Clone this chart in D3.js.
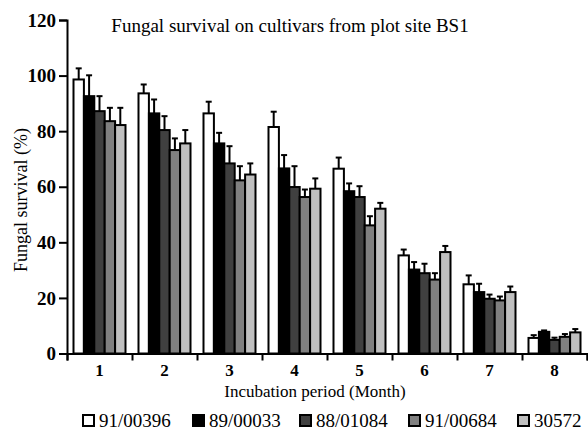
<!DOCTYPE html>
<html>
<head>
<meta charset="utf-8">
<script src="https://cdnjs.cloudflare.com/ajax/libs/d3/7.8.5/d3.min.js"></script>
<style>
  body { margin: 0; background: #fff; }
  text { font-family: "Liberation Serif", "Times New Roman", serif; fill: #000; }
</style>
</head>
<body>
<script>
'use strict';

// incubation months
const months = ["1", "2", "3", "4", "5", "6", "7", "8"];
const cultivars = ["91/00396", "89/00033", "88/01084", "91/00684", "30572"];
const yTicks = [0, 20, 40, 60, 80, 100, 120];

// fungal survival (%) per cultivar, one value per month
const s91_00396 = [98.6, 93.6, 86.4, 81.5, 66.5, 35.3, 24.9, 5.6];
const s89_00033 = [92.6, 86.4, 75.6, 66.6, 58.4, 30.2, 22.1, 7.8];
const s88_01084 = [87.2, 80.4, 68.4, 59.9, 56.3, 28.9, 19.7, 4.9];
const s91_00684 = [83.6, 73.2, 62.3, 56.3, 46.1, 26.6, 19.1, 6.0];
const s30572    = [82.2, 75.6, 64.4, 59.3, 52.1, 36.5, 22.1, 7.6];

// upper error bars
const e91_00396 = [4.0, 3.2, 4.2, 5.5, 4.0, 2.1, 3.2, 1.0];
const e89_00033 = [7.5, 5.0, 3.8, 4.8, 2.8, 2.7, 3.0, 0.5];
const e88_01084 = [5.4, 5.0, 6.2, 7.5, 3.9, 3.4, 1.5, 0.8];
const e91_00684 = [4.8, 4.2, 5.1, 2.7, 3.3, 2.3, 1.4, 1.0];
const e30572    = [6.2, 4.8, 4.0, 3.7, 2.1, 2.2, 2.0, 1.2];

const serif = "'Liberation Serif', 'Times New Roman', serif";

window.onload = function() {
  const width = 588, height = 433;
  const margin = {top: 20, right: 1, bottom: 79, left: 67};

  const values = [s91_00396, s89_00033, s88_01084, s91_00684, s30572];
  const errors = [e91_00396, e89_00033, e88_01084, e91_00684, e30572];
  const fills = ["#ffffff", "#000000", "#404040", "#808080", "#c0c0c0"];

  const svg = d3.select("body").append("svg")
    .attr("width", width)
    .attr("height", height);

  const x0 = d3.scaleBand()
    .domain(months)
    .range([margin.left, width - margin.right])
    .padding(0);

  const x1 = d3.scaleBand()
    .domain(cultivars)
    .range([0, x0.bandwidth()])
    .paddingInner(0)
    .paddingOuter(0.625);

  // boundaries between months, for the tick marks
  const xb = d3.scaleLinear()
    .domain([0, months.length])
    .range(x0.range());

  const y = d3.scaleLinear()
    .domain([0, 120])
    .range([height - margin.bottom - 0.5, margin.top]);

  // flatten into one row per bar
  let bars = [];
  months.forEach((m, i) => {
    cultivars.forEach((c, j) => {
      bars.push({month: m, cultivar: c, value: values[j][i], err: errors[j][i], fill: fills[j]});
    });
  });

  const cx = (d) => x0(d.month) + x1(d.cultivar) + x1.bandwidth() / 2;

  const g = svg.append("g");

  // error bars first, bars drawn over their base
  const eb = g.selectAll(".err").data(bars).enter().append("g")
    .attr("class", "err")
    .style("stroke", "#000")
    .style("stroke-width", "2px");

  eb.append("line")
    .attr("x1", cx)
    .attr("x2", cx)
    .attr("y1", (d) => y(d.value))
    .attr("y2", (d) => y(d.value + d.err));

  eb.append("line")
    .attr("x1", (d) => cx(d) - 3)
    .attr("x2", (d) => cx(d) + 3)
    .attr("y1", (d) => y(d.value + d.err))
    .attr("y2", (d) => y(d.value + d.err));

  g.selectAll(".bar").data(bars).enter().append("rect")
    .attr("class", "bar")
    .attr("x", (d) => x0(d.month) + x1(d.cultivar))
    .attr("y", (d) => y(d.value))
    .attr("width", x1.bandwidth())
    .attr("height", (d) => y(0) - y(d.value))
    .style("fill", (d) => d.fill)
    .style("stroke", "#000")
    .style("stroke-width", "2px");

  // y axis
  const yAxis = svg.append("g")
    .attr("transform", "translate(" + margin.left + ",0)")
    .call(d3.axisLeft(y).tickValues(yTicks).tickSize(8).tickPadding(3));
  yAxis.selectAll("path, line").style("stroke", "#000").style("stroke-width", "2px");
  yAxis.selectAll("text")
    .style("font-family", serif)
    .style("font-size", "19px")
    .style("font-weight", "bold");

  // x axis: ticks at month boundaries
  const xAxis = svg.append("g")
    .attr("transform", "translate(0," + y(0) + ")")
    .call(d3.axisBottom(xb).ticks(months.length).tickSize(7).tickFormat(""));
  xAxis.selectAll("path, line").style("stroke", "#000").style("stroke-width", "2px");

  // month labels centred in each band
  svg.append("g")
    .attr("transform", "translate(0," + y(0) + ")")
    .call(d3.axisBottom(x0).tickSize(0).tickPadding(10))
    .call((a) => a.select(".domain").remove())
    .selectAll("text")
      .style("font-family", serif)
      .style("font-size", "17px")
      .style("font-weight", "bold");

  // labels
  svg.append("text")
    .attr("x", 290)
    .attr("y", 32)
    .style("text-anchor", "middle")
    .style("font-family", serif)
    .style("font-size", "19px")
    .text("Fungal survival on cultivars from plot site BS1");

  svg.append("text")
    .attr("x", 315)
    .attr("y", 397)
    .style("text-anchor", "middle")
    .style("font-family", serif)
    .style("font-size", "17px")
    .text("Incubation period (Month)");

  svg.append("text")
    .attr("transform", "rotate(-90)")
    .attr("x", -200)
    .attr("y", 27)
    .style("text-anchor", "middle")
    .style("font-family", serif)
    .style("font-size", "18px")
    .text("Fungal survival (%)");

  // legend
  const legendX = [83, 193, 300, 409, 518];
  const legend = svg.append("g");
  cultivars.forEach((c, j) => {
    legend.append("rect")
      .attr("x", legendX[j])
      .attr("y", 415)
      .attr("width", 11)
      .attr("height", 11)
      .style("fill", fills[j])
      .style("stroke", "#000")
      .style("stroke-width", "2px");
    legend.append("text")
      .attr("x", legendX[j] + 16)
      .attr("y", 427)
      .style("font-family", serif)
      .style("font-size", "19px")
      .text(c);
  });
};
</script>
</body>
</html>
